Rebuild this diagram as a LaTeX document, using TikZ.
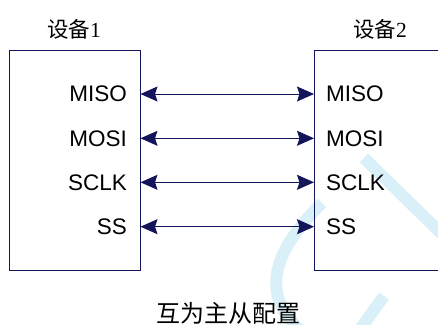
\documentclass[tikz,border=0pt]{standalone}
\usepackage{fontspec}
\setsansfont{Liberation Sans}
\newfontfamily\cjk{Noto Sans CJK SC}
\newfontfamily\digitfont{Liberation Serif}
\usetikzlibrary{arrows.meta}
\definecolor{navy}{HTML}{14145A}
\definecolor{wm}{HTML}{DAF0F8}
\begin{document}
\begin{tikzpicture}[x=1pt,y=-1pt,
  sig/.style={font=\sffamily\fontsize{22.5}{22.5}\selectfont, inner sep=0pt},
  dev/.style={draw=navy, line width=1pt, inner sep=0pt, minimum width=131pt, minimum height=220pt},
  link/.style={draw=navy, line width=1pt, {Stealth[length=17pt,width=15pt,inset=2.5pt]}-{Stealth[length=17pt,width=15pt,inset=2.5pt]}},
  ttl/.style={font=\cjk\fontsize{21.5}{21.5}\selectfont, inner sep=0pt},
  captxt/.style={font=\cjk\fontsize{24}{24}\selectfont, inner sep=0pt}]
\useasboundingbox (0,0) rectangle (438,324);
\clip (0,0) rectangle (438,324);
% watermark
\draw[wm, line width=12pt] (364,158) -- (446,238);
\draw[wm, line width=12pt] (322,203) .. controls (262,262) and (268,300) .. (300,330);
\draw[wm, line width=12pt] (384,296) -- (358,332);
% devices
\node[dev] (d1) at (74.5,160) {};
\node[dev, minimum width=140pt, anchor=north west] (d2) at (314,50) {};
\node[ttl] (t1) at (74,29) {设备{\digitfont 1}};
\node[ttl] (t2) at (380,29) {设备{\digitfont 2}};
% signal labels
\node[sig, anchor=east] (l1) at (127,94) {MISO};
\node[sig, anchor=east] (l2) at (127,138.3) {MOSI};
\node[sig, anchor=east] (l3) at (127,182.3) {SCLK};
\node[sig, anchor=east] (l4) at (127,226.7) {SS};
\node[sig, anchor=west] (r1) at (326,94) {MISO};
\node[sig, anchor=west] (r2) at (326,138.3) {MOSI};
\node[sig, anchor=west] (r3) at (326,182.3) {SCLK};
\node[sig, anchor=west] (r4) at (326,226.7) {SS};
% links
\draw[link] (l1 -| d1.east) -- (r1 -| d2.west);
\draw[link] (l2 -| d1.east) -- (r2 -| d2.west);
\draw[link] (l3 -| d1.east) -- (r3 -| d2.west);
\draw[link] (l4 -| d1.east) -- (r4 -| d2.west);
% caption
\node[captxt] (c) at (228.5,313) {互为主从配置};
\end{tikzpicture}
\end{document}
